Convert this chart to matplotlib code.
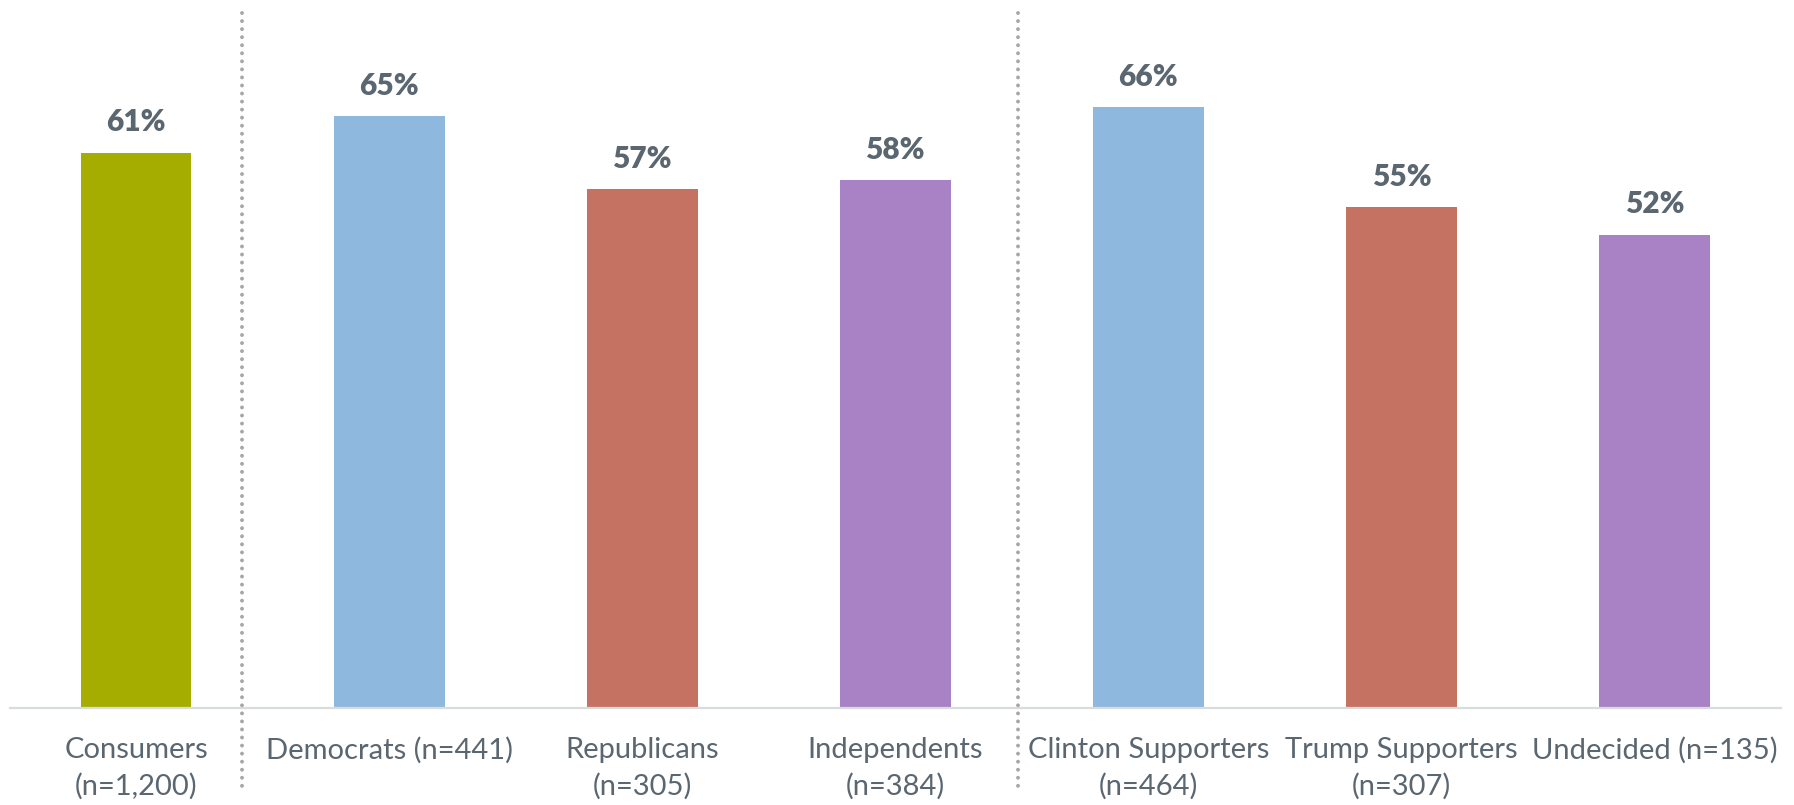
import matplotlib
matplotlib.use('Agg')
import matplotlib.pyplot as plt
import matplotlib.transforms as mtransforms

plt.rcParams['font.family'] = ['Lato', 'DejaVu Sans']

# survey groups, share answering yes (%)
categories = ['Consumers\n(n=1,200)', 'Democrats (n=441)', 'Republicans\n(n=305)',
              'Independents\n(n=384)', 'Clinton Supporters\n(n=464)',
              'Trump Supporters\n(n=307)', 'Undecided (n=135)']
values = [61, 65, 57, 58, 66, 55, 52]
colors = ['#A5AD00', '#8FB8DE', '#C57262', '#A882C4', '#8FB8DE', '#C57262', '#A882C4']
dividers = [0.42, 3.485]   # dotted separators between the three groups

TXT = '#5A6670'

W, H, DPI = 1794, 805, 100
fig = plt.figure(figsize=(W/DPI, H/DPI), dpi=DPI, facecolor='w')
ax = fig.add_axes([9.5/W, 97/H, 1771.5/W, 682.5/H])

x = range(len(values))
bars = ax.bar(x, values, width=0.438, color=colors, zorder=2)
ax.set_xlim(-0.5, len(values)-0.5)
ax.set_ylim(0, 75)

for b, v in zip(bars, values):
    ax.annotate('%d%%' % v, (b.get_x()+b.get_width()/2, v), xytext=(0, 15.5),
                textcoords='offset points', ha='center', va='baseline',
                fontsize=21.5, fontweight='heavy', color=TXT)

for s in ['top', 'right', 'left']:
    ax.spines[s].set_visible(False)
ax.spines['bottom'].set_color('#D9DCDC')
ax.spines['bottom'].set_linewidth(1.6)
ax.set_yticks([])
ax.set_xticks(list(x))
ax.set_xticklabels(categories, fontsize=21, color=TXT, linespacing=1.45)
ax.tick_params(axis='x', length=0, pad=21)

trans = mtransforms.blended_transform_factory(ax.transData, ax.transAxes)
for d in dividers:
    ax.plot([d, d], [1.018, -0.120], transform=trans, clip_on=False,
            color='#A6A6A6', lw=2.8, linestyle=(0, (0.01, 2.06)),
            dash_capstyle='round', zorder=1)

fig.savefig('out.png', dpi=DPI, facecolor='w')
